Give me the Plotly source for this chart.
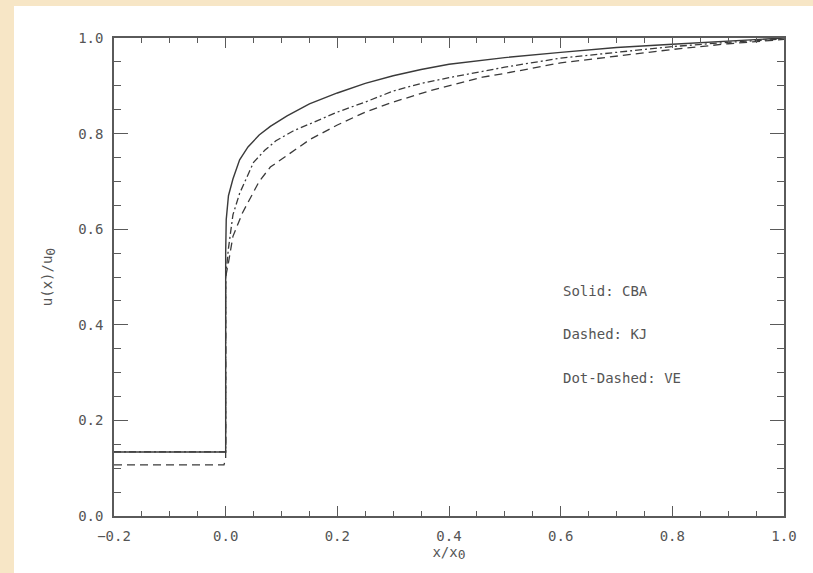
import plotly.graph_objects as go

# ---- data ----
cba_x = [-0.2, 0.0, 0.0, 0.001, 0.005, 0.013, 0.025, 0.04, 0.06, 0.08, 0.11, 0.15, 0.2, 0.25, 0.3, 0.35, 0.4, 0.5, 0.6, 0.7, 0.8, 0.9, 1.0]
cba_y = [0.134, 0.134, 0.55, 0.62, 0.67, 0.705, 0.745, 0.772, 0.797, 0.815, 0.837, 0.862, 0.885, 0.905, 0.921, 0.934, 0.945, 0.959, 0.970, 0.980, 0.987, 0.994, 1.0]

kj_x = [-0.2, -0.003, 0.0, 0.0, 0.005, 0.013, 0.03, 0.06, 0.08, 0.11, 0.15, 0.2, 0.25, 0.3, 0.37, 0.46, 0.5, 0.6, 0.7, 0.8, 0.9, 1.0]
kj_y = [0.107, 0.107, 0.12, 0.5, 0.53, 0.585, 0.634, 0.70, 0.73, 0.755, 0.787, 0.818, 0.845, 0.866, 0.891, 0.918, 0.926, 0.948, 0.962, 0.976, 0.988, 0.997]

ve_x = [-0.2, 0.0, 0.0, 0.005, 0.013, 0.025, 0.05, 0.07, 0.09, 0.12, 0.15, 0.2, 0.25, 0.3, 0.35, 0.4, 0.5, 0.6, 0.7, 0.8, 0.9, 1.0]
ve_y = [0.134, 0.134, 0.5, 0.56, 0.63, 0.675, 0.74, 0.765, 0.785, 0.805, 0.82, 0.845, 0.866, 0.889, 0.905, 0.917, 0.939, 0.958, 0.970, 0.982, 0.991, 0.998]

x_ticks = [-0.2, 0.0, 0.2, 0.4, 0.6, 0.8, 1.0]
y_ticks = [0.0, 0.2, 0.4, 0.6, 0.8, 1.0]
notes = ["Solid: CBA", "Dashed: KJ", "Dot-Dashed: VE"]
note_x = 0.60
note_y = [0.47, 0.381, 0.289]

LINE = "#3a3a3a"
AX = "#5a5a5a"
TXT = "#555555"
FONT = "DejaVu Sans Mono"

fig = go.Figure()
fig.add_trace(go.Scatter(x=ve_x, y=ve_y, mode="lines",
                         line=dict(color=LINE, width=1.3, dash="7px,3px,2px,3px"), name="VE"))
fig.add_trace(go.Scatter(x=kj_x, y=kj_y, mode="lines",
                         line=dict(color=LINE, width=1.3, dash="8px,5px"), name="KJ"))
fig.add_trace(go.Scatter(x=cba_x, y=cba_y, mode="lines",
                         line=dict(color=LINE, width=1.4), name="CBA"))

for t, yy in zip(notes, note_y):
    fig.add_annotation(x=note_x, y=yy, text=t, showarrow=False, xanchor="left",
                       yanchor="middle", font=dict(family=FONT, size=14, color=TXT))

W, H = 813, 573
L, R, T, B = 114, 29, 38, 57
pw, ph = W - L - R, H - T - B
# white card over parchment background
fig.add_shape(type="rect", xref="paper", yref="paper",
              x0=(14 - L) / pw, x1=(W + 5 - L) / pw,
              y0=-(B + 5) / ph, y1=(H - 6 - B) / ph,
              fillcolor="white", line=dict(width=0), layer="below")

fig.update_layout(
    width=W, height=H,
    margin=dict(l=L, r=R, t=T, b=B, pad=0),
    paper_bgcolor="#F7E6C6",
    plot_bgcolor="white",
    showlegend=False,
    font=dict(family=FONT, size=14, color=TXT),
)
fig.update_xaxes(
    range=[-0.2, 1.0], tickvals=x_ticks, ticktext=["%.1f" % v if v >= 0 else "\u22120.2" for v in x_ticks],
    ticks="inside", ticklen=10, tickwidth=1.2, tickcolor=AX,
    minor=dict(dtick=0.05, ticks="inside", ticklen=5, tickwidth=1.2, tickcolor=AX),
    showline=True, linecolor=AX, linewidth=1.5, mirror="ticks",
    showgrid=False, zeroline=False, ticklabelstandoff=6,
    title=dict(text="x/x<sub><span style='font-size:13px'>0</span></sub>", standoff=2,
               font=dict(family=FONT, size=14, color=TXT)),
)
fig.update_yaxes(
    range=[0.0, 1.0], tickvals=y_ticks, ticktext=["%.1f" % v for v in y_ticks],
    ticks="inside", ticklen=14, tickwidth=1.2, tickcolor=AX,
    minor=dict(dtick=0.05, ticks="inside", ticklen=7, tickwidth=1.2, tickcolor=AX),
    showline=True, linecolor=AX, linewidth=1.5, mirror="ticks",
    showgrid=False, zeroline=False, ticklabelstandoff=6,
    title=dict(text="u(x)/u<sub><span style='font-size:13px'>0</span></sub>", standoff=22,
               font=dict(family=FONT, size=14, color=TXT)),
)

fig.write_html("out.html")
